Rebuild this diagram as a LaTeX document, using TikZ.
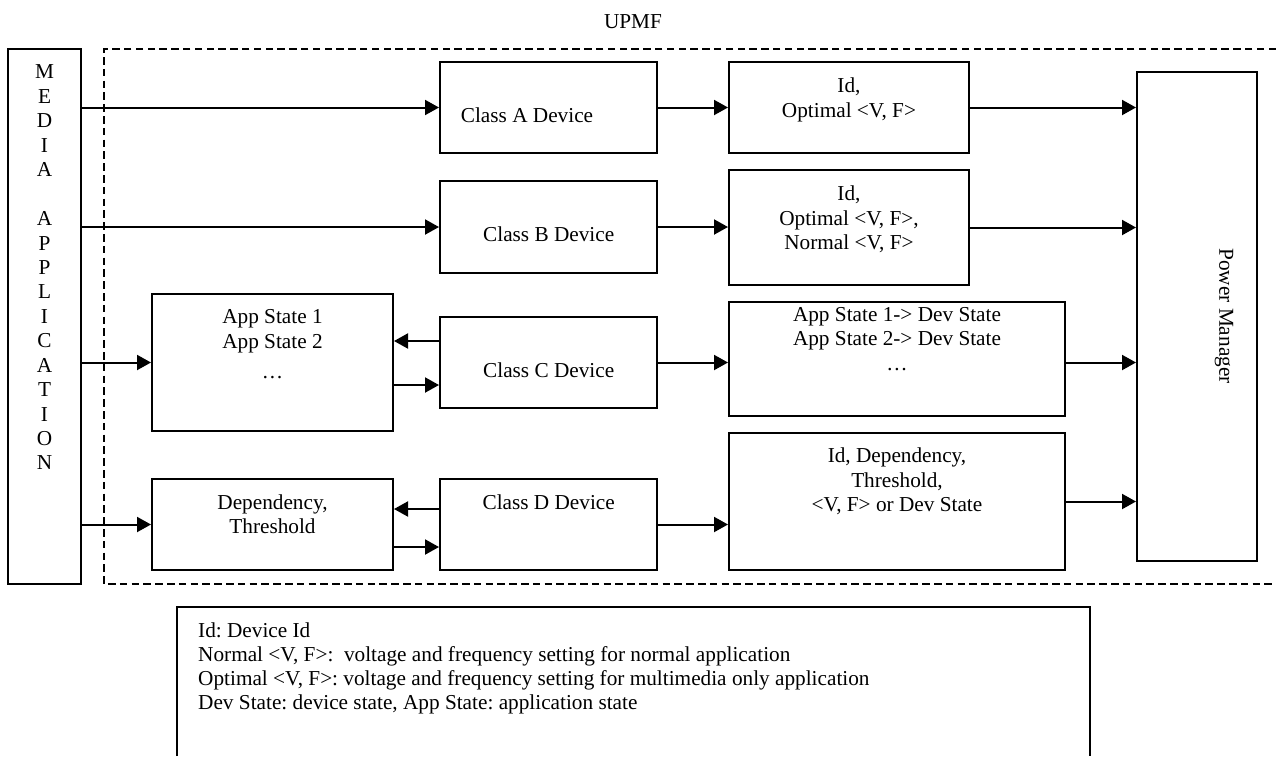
\documentclass[tikz,border=0pt]{standalone}
\usepackage{fontspec}
\setmainfont{Liberation Serif}
\usetikzlibrary{arrows.meta}

\begin{document}
\begin{tikzpicture}[x=1pt,y=-1pt,
  txt/.style={font=\fontsize{21.26}{24.2}\selectfont\frenchspacing, inner sep=0pt, align=center},
  box/.style={draw, line width=2pt, inner sep=0pt},
  flow/.style={line width=2pt, -{Triangle[length=14pt,width=15pt]}},
  frame/.style={line width=2pt}]
\useasboundingbox (0,0) rectangle (1276,756);

% title and framework outline
\node[txt, anchor=base] (title) at (633,28.3) {UPMF};
\draw[frame, dash pattern=on 7.5pt off 4.3pt] (1276,49) -- (104,49) -- (104,584) -- (1276,584);

% media application column
\node[box, minimum width=73pt, minimum height=535pt] (media) at (44.5,316.5) {};
\node[txt, font=\fontsize{21.26}{24.44}\selectfont] (mediatext) at (44.5,267.5)
  {M\\E\\D\\I\\A\\~\\A\\P\\P\\L\\I\\C\\A\\T\\I\\O\\N};

% device classes
\node[box, minimum width=217pt, minimum height=91pt] (ca) at (548.5,107.5) {};
\node[box, minimum width=217pt, minimum height=92pt] (cb) at (548.5,227) {};
\node[box, minimum width=217pt, minimum height=91pt] (cc) at (548.5,362.5) {};
\node[box, minimum width=217pt, minimum height=91pt] (cd) at (548.5,524.5) {};
\node[txt, anchor=base] (catext) at (527,122.7) {Class A Device};
\node[txt, anchor=base] (cbtext) at (548.7,241.7) {Class B Device};
\node[txt, anchor=base] (cctext) at (548.7,377.3) {Class C Device};
\node[txt, anchor=base] (cdtext) at (548.7,509.3) {Class D Device};

% application side tables
\node[box, minimum width=241pt, minimum height=137pt] (app) at (272.5,362.5) {};
\node[box, minimum width=241pt, minimum height=91pt] (dep) at (272.5,524.5) {};
\node[txt] (apptext) at (272.5,344.2) {App State 1\\App State 2\\[6pt]…};
\node[txt] (deptext) at (272.5,514.4) {Dependency,\\Threshold};

% information passed to the power manager
\node[box, minimum width=240pt, minimum height=91pt] (ida) at (849,107.5) {};
\node[box, minimum width=240pt, minimum height=115pt] (idb) at (849,227.5) {};
\node[box, minimum width=336pt, minimum height=114pt] (map) at (897,359) {};
\node[box, minimum width=336pt, minimum height=137pt] (bd) at (897,501.5) {};
\node[txt] (idatext) at (849,99.8) {Id,\\Optimal <V, F>};
\node[txt] (idbtext) at (849,219.3) {Id,\\Optimal <V, F>,\\Normal <V, F>};
\node[txt] (maptext) at (897,339) {App State 1-> Dev State\\App State 2-> Dev State\\…};
\node[txt] (bdtext) at (897,481.3) {Id, Dependency,\\Threshold,\\<V, F> or Dev State};

% power manager
\node[box, minimum width=120pt, minimum height=489pt] (pm) at (1197,316.5) {};
\node[txt, rotate=-90] (pmtext) at (1224,316) {Power Manager};

% connectors from the application
\draw[flow] (media.east |- ca.west) -- (ca.west);
\draw[flow] (media.east |- cb.west) -- (cb.west);
\draw[flow] (media.east |- app.west) -- (app.west);
\draw[flow] (media.east |- dep.west) -- (dep.west);

% class A and B
\draw[flow] (ca.east) -- (ca.east -| ida.west);
\draw[flow] (cb.east) -- (cb.east -| idb.west);
\draw[flow] (ida.east) -- (ida.east -| pm.west);
\draw[flow] (idb.east) -- (idb.east -| pm.west);

% class C
\coordinate (c1) at ([yshift=21.5pt]cc.west);
\coordinate (c2) at ([yshift=-22.5pt]cc.west);
\draw[flow] (c1) -- (c1 -| app.east);
\draw[flow] (c2 -| app.east) -- (c2);
\draw[flow] (cc.east) -- (cc.east -| map.west);
\draw[flow] (cc.east -| map.east) -- (cc.east -| pm.west);

% class D
\coordinate (d1) at ([yshift=15.5pt]cd.west);
\coordinate (d2) at ([yshift=-22.5pt]cd.west);
\draw[flow] (d1) -- (d1 -| dep.east);
\draw[flow] (d2 -| dep.east) -- (d2);
\draw[flow] (cd.east) -- (cd.east -| bd.west);
\draw[flow] (bd.east) -- (bd.east -| pm.west);

% legend
\draw[frame] (177,756) -- (177,607) -- (1090,607) -- (1090,756);
\node[txt, align=left, anchor=north west] (legend) at (198,622.2)
  {Id: Device Id\\
   Normal <V, F>:~ voltage and frequency setting for normal application\\
   Optimal <V, F>: voltage and frequency setting for multimedia only application\\
   Dev State: device state, App State: application state};
\end{tikzpicture}
\end{document}
